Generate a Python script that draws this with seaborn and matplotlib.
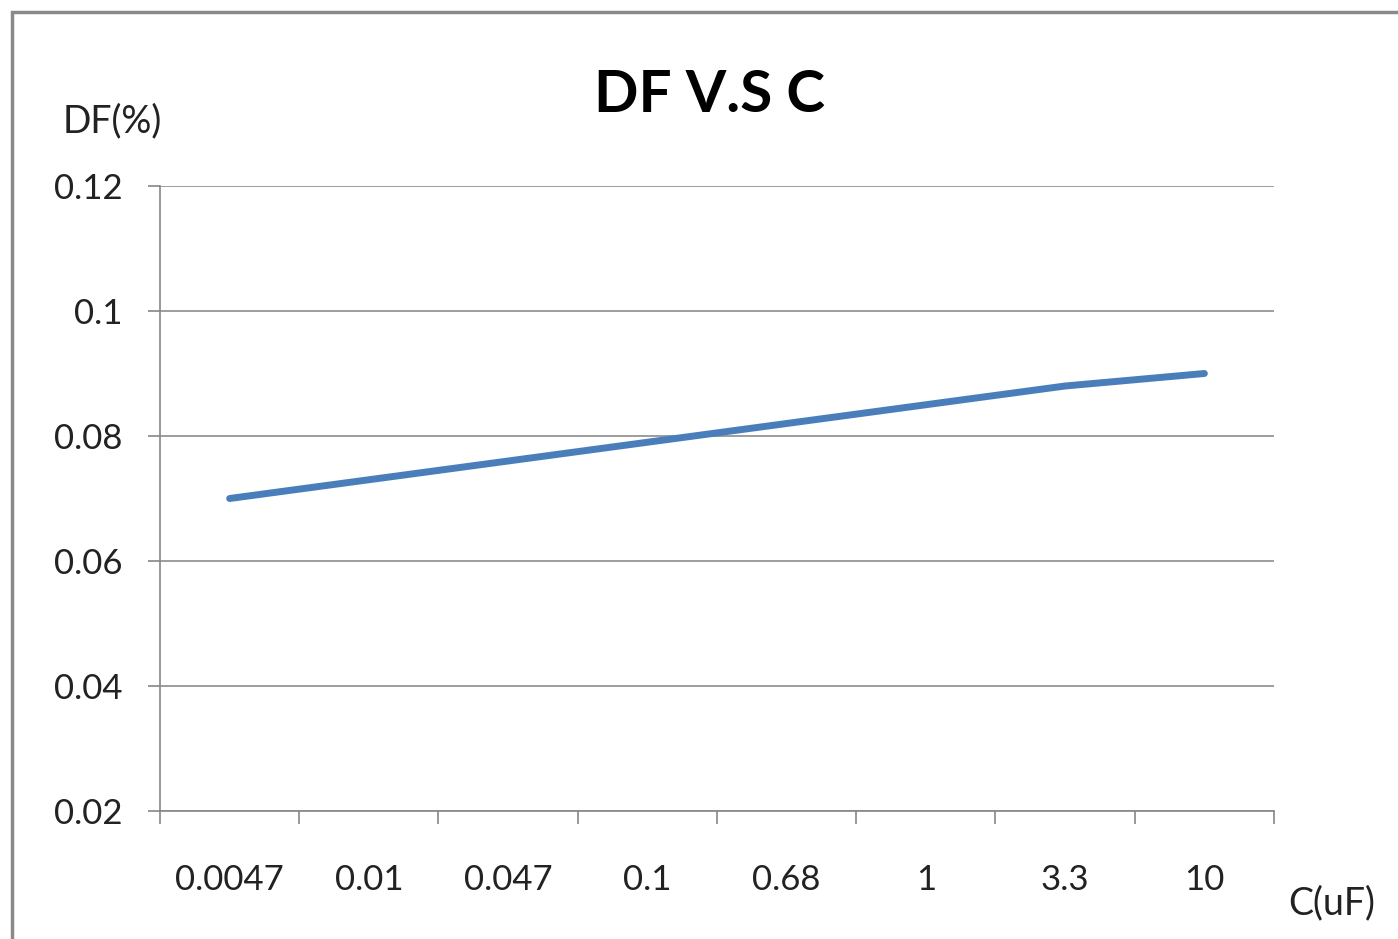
import numpy as np
import pandas as pd
import matplotlib
matplotlib.use('Agg')
import matplotlib.pyplot as plt
import seaborn as sb
from matplotlib.patches import Rectangle

# Data
capacitance = ['0.0047', '0.01', '0.047', '0.1', '0.68', '1', '3.3', '10']
df_percent = [0.070, 0.073, 0.076, 0.079, 0.082, 0.085, 0.088, 0.090]
y_ticks = [0.02, 0.04, 0.06, 0.08, 0.1, 0.12]
y_tick_labels = ['0.02', '0.04', '0.06', '0.08', '0.1', '0.12']

data = pd.DataFrame({'C': capacitance, 'DF': df_percent})

sb.set_style('white')
plt.rcParams['font.family'] = ['Lato', 'DejaVu Sans']

fig = plt.figure(figsize=(13.98, 9.39), dpi=100)
ax = fig.add_axes([160 / 1398, 1 - 811 / 939, (1274 - 160) / 1398, (811 - 186) / 939])

sb.lineplot(data=data, x='C', y='DF', sort=False, color='#4A7EBB', linewidth=5,
            solid_capstyle='round', ax=ax)

# Axes setup (Excel-like)
ax.set_xlim(-0.5, len(capacitance) - 0.5)
ax.set_ylim(0.02, 0.12)
ax.set_yticks(y_ticks)
ax.set_yticklabels(y_tick_labels)
ax.set_xticks(range(len(capacitance)))
ax.set_xticklabels(capacitance)
ax.set_xticks(np.arange(-0.5, len(capacitance)), minor=True)
ax.tick_params(axis='x', which='major', bottom=True, length=0, pad=38, labelsize=25, colors='#222222')
ax.tick_params(axis='x', which='minor', bottom=True, length=9, width=1.2, color='#868686', direction='out')
ax.tick_params(axis='y', which='major', left=True, length=9, width=1.2, color='#868686', direction='out',
               labelsize=25, labelcolor='#222222', pad=18)
ax.set_xlabel('')
ax.set_ylabel('')

ax.grid(axis='y', color='#8c8c8c', linewidth=1.2)
ax.set_axisbelow(True)
for side in ['top', 'right']:
    ax.spines[side].set_visible(False)
for side in ['left', 'bottom']:
    ax.spines[side].set_color('#868686')
    ax.spines[side].set_linewidth(1.2)

# Titles and axis captions
fig.text(710 / 1398, 1 - 95 / 939, 'DF V.S C', ha='center', va='center',
         fontsize=42, fontweight='bold', color='black')
fig.text(112 / 1398, 1 - 121 / 939, 'DF(%)', ha='center', va='center',
         fontsize=27, color='#222222')
fig.text(1332 / 1398, 1 - 903 / 939, 'C(uF)', ha='center', va='center',
         fontsize=27, color='#222222')

# Outer chart border
fig.patches.append(Rectangle((12 / 1398, -0.1), 1.2, 1.1 - 12 / 939, transform=fig.transFigure,
                             fill=False, edgecolor='#8a8a8a', linewidth=2.5, zorder=0))

fig.savefig('out.png', dpi=100)
print('Finished!')
